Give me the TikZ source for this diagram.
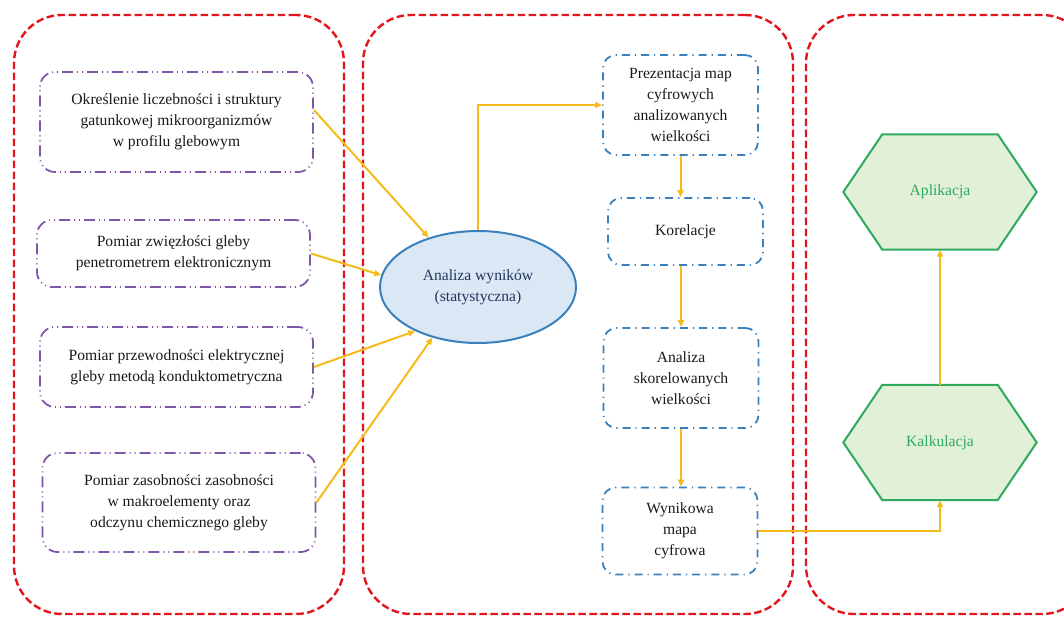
\documentclass[tikz,border=0pt]{standalone}
\usepackage{fontspec}
\setmainfont{Liberation Serif}
\usetikzlibrary{shapes.geometric,arrows.meta,backgrounds}
\definecolor{panelred}{HTML}{E3141B}
\definecolor{boxpurple}{HTML}{7E57A8}
\definecolor{boxblue}{HTML}{3A80BC}
\definecolor{arrowgold}{HTML}{F5BB1A}
\definecolor{hexgreen}{HTML}{2DAA5C}
\definecolor{hexfill}{HTML}{E2F0DA}
\definecolor{ellfill}{HTML}{DAE7F5}
\definecolor{elltext}{HTML}{25355A}
\tikzset{
    panel/.style={draw=panelred, line width=2.4pt, dash pattern=on 7.5pt off 3.5pt,
        rounded corners=48pt, minimum height=599pt},
    measure/.style={draw=boxpurple, line width=1.8pt, rounded corners=15pt,
        dash pattern=on 11pt off 4pt on 1pt off 4pt on 1pt off 4pt,
        align=center, minimum width=273pt, text=black!90},
    stage/.style={draw=boxblue, line width=1.8pt, rounded corners=13pt,
        dash pattern=on 8pt off 5pt on 1.2pt off 5pt,
        align=center, minimum width=155pt, text=black!90},
    result/.style={minimum width=193pt, minimum height=115pt, text=hexgreen},
    hexagon/.style={draw=hexgreen, fill=hexfill, line width=2pt},
    flow/.style={draw=arrowgold, line width=2pt, -{Triangle[length=7pt,width=6pt]}}
}
\begin{document}
\begin{tikzpicture}[x=1pt, y=-1pt, font=\fontsize{15.6}{21}\selectfont]
    \useasboundingbox (0,0) rectangle (1064,617);
    \clip (0,0) rectangle (1064,617);
    % three stages
    \node[panel, minimum width=330pt] (p1) at (179,314.5) {};
    \node[panel, minimum width=430pt] (p2) at (578,314.5) {};
    \node[panel, minimum width=284pt] (p3) at (948,314.5) {};
    % measurements
    \node[measure, minimum height=100pt] (m1) at (176.5,122)
        {Określenie liczebności i struktury\\gatunkowej mikroorganizmów\\w profilu glebowym};
    \node[measure, minimum height=67pt] (m2) at (173.5,253.5)
        {Pomiar zwięzłości gleby\\penetrometrem elektronicznym};
    \node[measure, minimum height=80pt] (m3) at (176.5,367)
        {Pomiar przewodności elektrycznej\\gleby metodą konduktometryczna};
    \node[measure, minimum height=99pt] (m4) at (179,502.5)
        {Pomiar zasobności zasobności\\w makroelementy oraz\\odczynu chemicznego gleby};
    % analysis
    \node[ellipse, draw=boxblue, fill=ellfill, line width=2pt, text=elltext,
        minimum width=196pt, minimum height=112pt, align=center] (wyn) at (478,287)
        {Analiza wyników\\(statystyczna)};
    \node[stage, minimum height=100pt] (prez) at (680.5,105)
        {Prezentacja map\\cyfrowych\\analizowanych\\wielkości};
    \node[stage, minimum height=67pt] (kor) at (685.5,231.5) {Korelacje};
    \node[stage, minimum height=100pt] (skor) at (681,378)
        {Analiza\\skorelowanych\\wielkości};
    \node[stage, minimum height=87pt] (mapa) at (680,531)
        {Wynikowa\\mapa\\cyfrowa};
    % results
    \node[result] (apl) at (940,192) {Aplikacja};
    \node[result] (kal) at (940,442.5) {Kalkulacja};
    \begin{scope}[on background layer]
        \foreach \h in {apl,kal}
            \filldraw[hexagon] (\h.west) -- ([xshift=39pt]\h.north west)
                -- ([xshift=-39pt]\h.north east) -- (\h.east)
                -- ([xshift=-39pt]\h.south east) -- ([xshift=39pt]\h.south west) -- cycle;
    \end{scope}
    % connectors
    \draw[flow] (m1.5) -- (wyn.135);
    \draw[flow] (m2.east) -- (wyn.173);
    \draw[flow] (m3.east) -- (wyn.215);
    \draw[flow] (m4.east) -- (wyn.228);
    \draw[flow] (wyn.north) |- (prez.west);
    \draw[flow] (prez.south) -- (prez.south |- kor.north);
    \draw[flow] (skor.north |- kor.south) -- (skor.north);
    \draw[flow] (skor.south) -- (skor.south |- mapa.north);
    \draw[flow] (mapa.east) -| (kal.south);
    \draw[flow] (kal.north) -- (apl.south);
\end{tikzpicture}
\end{document}
